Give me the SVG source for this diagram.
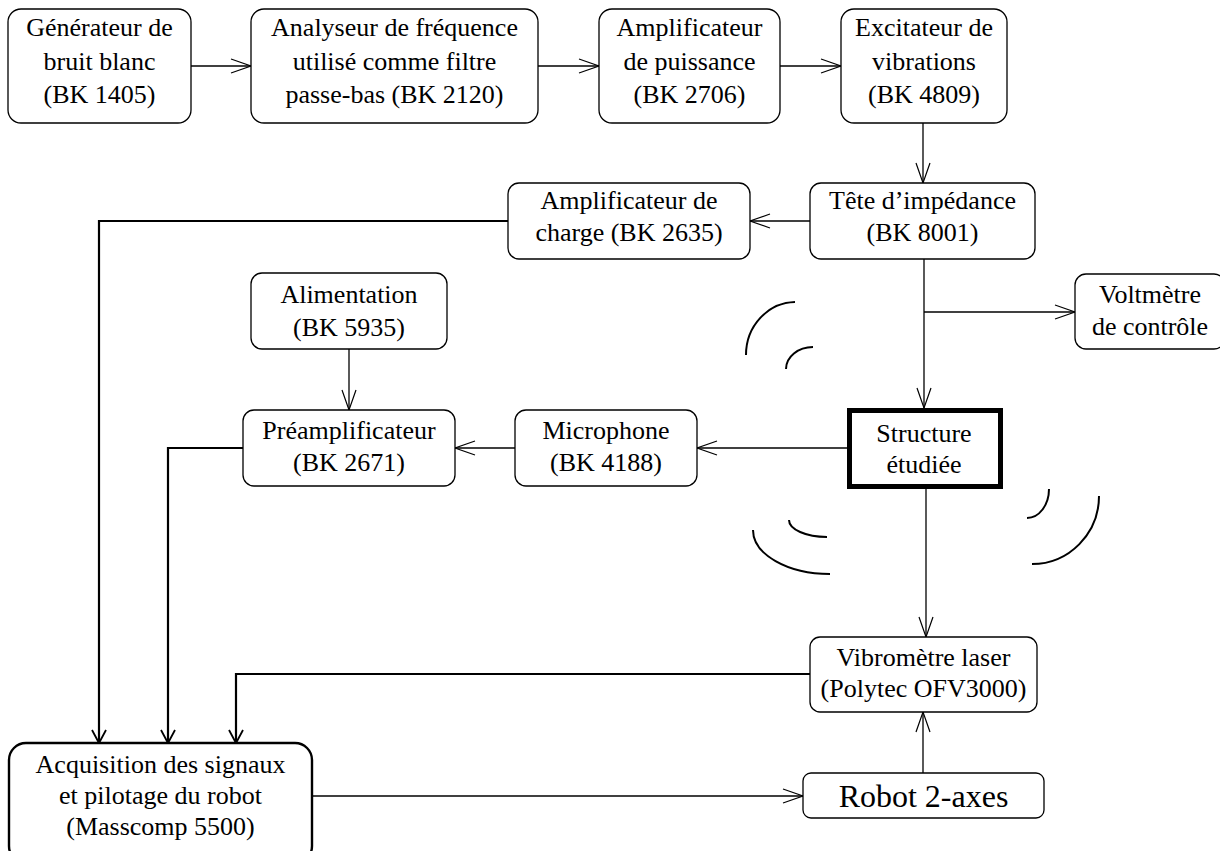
<svg xmlns="http://www.w3.org/2000/svg" width="1220" height="851" viewBox="0 0 1220 851">
<style>
.box{fill:#fff;stroke:#000;stroke-width:1.3}
.t{font-family:"Liberation Serif","Times New Roman",serif;font-size:26px;fill:#000;text-anchor:middle}
.c{fill:none;stroke:#000;stroke-width:1.3}
.k{fill:none;stroke:#000;stroke-width:2.2}
.w{fill:none;stroke:#000;stroke-width:2}
</style>
<defs>
<marker id="a" markerUnits="userSpaceOnUse" viewBox="0 0 24 16" markerWidth="24" markerHeight="16" refX="21" refY="8" orient="auto">
<path d="M1,1 L21,8 L1,15" fill="none" stroke="#000" stroke-width="1.2"/>
</marker>
<marker id="b" markerUnits="userSpaceOnUse" viewBox="0 0 18 18" markerWidth="18" markerHeight="18" refX="15" refY="8" orient="auto">
<path d="M2,1 L15,8 L2,15" fill="none" stroke="#000" stroke-width="1.8"/>
</marker>
</defs>
<rect width="1220" height="851" fill="#fff"/>
<g id="connectors">
<path class="c" d="M191,66 H251" marker-end="url(#a)"/>
<path class="c" d="M538,66 H599" marker-end="url(#a)"/>
<path class="c" d="M780,66 H841" marker-end="url(#a)"/>
<path class="c" d="M923,123 V183" marker-end="url(#a)"/>
<path class="c" d="M810,221 H750" marker-end="url(#a)"/>
<path class="k" d="M508,221 H99 V743" marker-end="url(#b)"/>
<path class="c" d="M924,259 V408" marker-end="url(#a)"/>
<path class="c" d="M924,312 H1075" marker-end="url(#a)"/>
<path class="c" d="M847,448 H697" marker-end="url(#a)"/>
<path class="c" d="M515,448 H455" marker-end="url(#a)"/>
<path class="c" d="M349,349 V410" marker-end="url(#a)"/>
<path class="k" d="M243,448 H168 V743" marker-end="url(#b)"/>
<path class="c" d="M926,488 V637" marker-end="url(#a)"/>
<path class="k" d="M810,674 H236 V743" marker-end="url(#b)"/>
<path class="c" d="M312,796 H803" marker-end="url(#a)"/>
<path class="c" d="M923,773 V712" marker-end="url(#a)"/>
</g>
<g id="waves">
<path class="w" d="M746,355 A50,53 0 0 1 795,302"/>
<path class="w" d="M786,369 A27,22 0 0 1 813,347"/>
<path class="w" d="M789,520 A38,17 0 0 0 827,537"/>
<path class="w" d="M753,530 A77,44 0 0 0 830,574"/>
<path class="w" d="M1049,489 A22,29 0 0 1 1027,518"/>
<path class="w" d="M1099,496 A67,68 0 0 1 1032,564"/>
</g>
<g id="n1"><rect class="box" x="8" y="9" width="183" height="114" rx="13"/>
<text class="t" x="99.5" y="36">Générateur de</text><text class="t" x="99.5" y="70">bruit blanc</text><text class="t" x="99.5" y="103">(BK 1405)</text></g>
<g id="n2"><rect class="box" x="251" y="9" width="287" height="114" rx="13"/>
<text class="t" x="394.5" y="36">Analyseur de fréquence</text><text class="t" x="394.5" y="70">utilisé comme filtre</text><text class="t" x="394.5" y="103">passe-bas (BK 2120)</text></g>
<g id="n3"><rect class="box" x="599" y="9" width="181" height="114" rx="13"/>
<text class="t" x="689.5" y="36">Amplificateur</text><text class="t" x="689.5" y="70">de puissance</text><text class="t" x="689.5" y="103">(BK 2706)</text></g>
<g id="n4"><rect class="box" x="841" y="9" width="166" height="114" rx="13"/>
<text class="t" x="924" y="36">Excitateur de</text><text class="t" x="924" y="70">vibrations</text><text class="t" x="924" y="103">(BK 4809)</text></g>
<g id="n5"><rect class="box" x="508" y="183" width="242" height="76" rx="11"/>
<text class="t" x="629" y="209">Amplificateur de</text><text class="t" x="629" y="241">charge (BK 2635)</text></g>
<g id="n6"><rect class="box" x="810" y="183" width="225" height="76" rx="11"/>
<text class="t" x="922.5" y="209">Tête d’impédance</text><text class="t" x="922.5" y="241">(BK 8001)</text></g>
<g id="n7"><rect class="box" x="1075" y="274" width="150" height="75" rx="11"/>
<text class="t" x="1150" y="303">Voltmètre</text><text class="t" x="1150" y="335">de contrôle</text></g>
<g id="n8"><rect class="box" x="251" y="273" width="196" height="76" rx="11"/>
<text class="t" x="349" y="303">Alimentation</text><text class="t" x="349" y="336">(BK 5935)</text></g>
<g id="n9"><rect class="box" x="243" y="410" width="212" height="76" rx="11"/>
<text class="t" x="349" y="439">Préamplificateur</text><text class="t" x="349" y="471">(BK 2671)</text></g>
<g id="n10"><rect class="box" x="515" y="410" width="182" height="76" rx="11"/>
<text class="t" x="606" y="439">Microphone</text><text class="t" x="606" y="471">(BK 4188)</text></g>
<g id="n11"><rect x="849.5" y="410.5" width="151" height="76" fill="#fff" stroke="#000" stroke-width="5"/>
<text class="t" x="924" y="442">Structure</text><text class="t" x="924" y="473">étudiée</text></g>
<g id="n12"><rect class="box" x="810" y="637" width="227" height="75" rx="10"/>
<text class="t" x="923.5" y="666">Vibromètre laser</text><text class="t" x="923.5" y="697">(Polytec OFV3000)</text></g>
<g id="n13"><rect class="box" x="803" y="773" width="241" height="45" rx="8"/>
<text class="t" x="923.5" y="807" style="font-size:32px">Robot 2-axes</text></g>
<g id="n14"><rect x="9" y="743" width="303" height="120" rx="17" fill="#fff" stroke="#000" stroke-width="2.4"/>
<text class="t" x="160.5" y="773">Acquisition des signaux</text><text class="t" x="160.5" y="804">et pilotage du robot</text><text class="t" x="160.5" y="835">(Masscomp 5500)</text></g>
</svg>
